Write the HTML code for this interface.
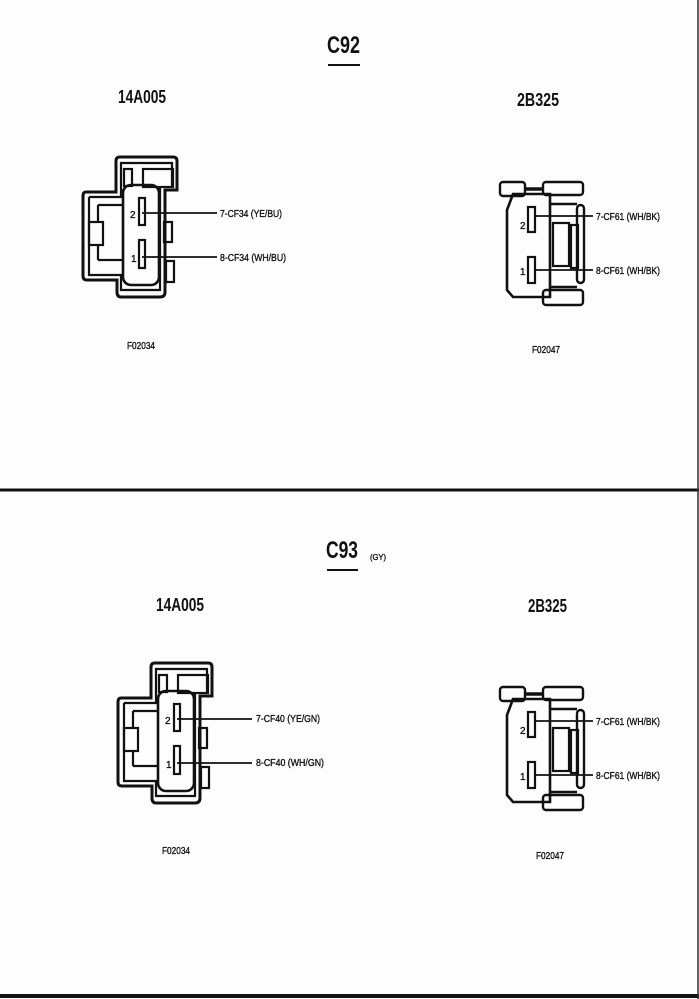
<!DOCTYPE html>
<html><head><meta charset="utf-8"><style>
html,body{margin:0;padding:0;background:#fff}
svg{display:block}
text{font-family:"Liberation Sans",Arial,sans-serif;fill:#111}
.lbl{stroke:#111;stroke-width:0.35}
</style></head><body>
<svg width="699" height="999" viewBox="0 0 699 999" xmlns="http://www.w3.org/2000/svg">
<rect x="0" y="0" width="699" height="999" fill="#fdfdfd"/>
<defs>
<g id="connA" fill="none" stroke="#111">
  <path d="M86,192 H116 V161 Q116,157 120,157 H173 Q177,157 177,161 V190 H165 V292 Q165,297 160,297 H121 Q117,297 117,292 V280 H87 Q83,280 83,276 V196 Q83,192 86,192 Z" stroke-width="3"/>
  <path d="M89,197 H121 V163 H172 V188" stroke-width="2.2"/>
  <path d="M89,197 V275 H121 V290 H160 V186" stroke-width="2.2"/>
  <rect x="123" y="185" width="36" height="100" rx="8" stroke-width="2.6"/>
  <rect x="124" y="169" width="8" height="17" stroke-width="2.2"/>
  <rect x="143" y="169" width="30" height="18" stroke-width="2.2"/>
  <rect x="89" y="222" width="14" height="23" stroke-width="2.2"/>
  <path d="M98,205 H123 M98,205 V222 M98,260 H123 M98,245 V260" stroke-width="2.2"/>
  <rect x="164" y="222" width="8" height="20" stroke-width="2.2"/>
  <rect x="166" y="261" width="8" height="21" stroke-width="2.2"/>
  <rect x="139" y="198" width="6" height="27" stroke-width="2.2"/>
  <rect x="139" y="240" width="6" height="28" stroke-width="2.2"/>
  <line x1="142" y1="213" x2="217" y2="213" stroke-width="1.8"/>
  <line x1="142" y1="257" x2="217" y2="257" stroke-width="1.8"/>
  <text x="130" y="218" font-size="10" class="lbl">2</text>
  <text x="131" y="262" font-size="10" class="lbl">1</text>
</g>
<g id="connB" fill="none" stroke="#111">
  <rect x="500" y="182" width="25" height="14" rx="3" stroke-width="2.4"/>
  <rect x="543" y="182" width="40" height="13" rx="3" stroke-width="2.4"/>
  <path d="M525,189 H543" stroke-width="3.5"/>
  <path d="M513,194 H550 V297 H513 L507,290 V210 Z" stroke-width="2.6"/>
  <path d="M550,204 H577 M550,287 H577" stroke-width="2.4"/>
  <rect x="577" y="205" width="7" height="78" rx="3.5" stroke-width="2.4"/>
  <rect x="553" y="223" width="16" height="43" stroke-width="2.2"/>
  <rect x="571" y="225" width="7" height="43" stroke-width="2.2"/>
  <rect x="528" y="207" width="7" height="25" stroke-width="2.2"/>
  <rect x="528" y="257" width="7" height="26" stroke-width="2.2"/>
  <rect x="543" y="290" width="40" height="15" rx="3" stroke-width="2.4"/>
  <line x1="535" y1="216" x2="593" y2="216" stroke-width="1.8"/>
  <line x1="535" y1="270" x2="593" y2="270" stroke-width="1.8"/>
  <text x="520" y="229" font-size="10" class="lbl">2</text>
  <text x="520" y="275" font-size="10" class="lbl">1</text>
</g>
</defs>

<text x="327" y="53" font-size="24" font-weight="bold" textLength="33" lengthAdjust="spacingAndGlyphs">C92</text>
<line x1="328" y1="65" x2="360" y2="65" stroke="#111" stroke-width="2"/>
<text x="118" y="103" font-size="18" font-weight="bold" textLength="48" lengthAdjust="spacingAndGlyphs">14A005</text>
<text x="517" y="106" font-size="18" font-weight="bold" textLength="42" lengthAdjust="spacingAndGlyphs">2B325</text>
<use href="#connA"/>
<text x="220" y="217" font-size="10" class="lbl" textLength="62" lengthAdjust="spacingAndGlyphs">7-CF34 (YE/BU)</text>
<text x="220" y="261" font-size="10" class="lbl" textLength="66" lengthAdjust="spacingAndGlyphs">8-CF34 (WH/BU)</text>
<use href="#connB"/>
<text x="596" y="220" font-size="10" class="lbl" textLength="64" lengthAdjust="spacingAndGlyphs">7-CF61 (WH/BK)</text>
<text x="596" y="274" font-size="10" class="lbl" textLength="64" lengthAdjust="spacingAndGlyphs">8-CF61 (WH/BK)</text>
<text x="127" y="349" font-size="10" class="lbl" textLength="28" lengthAdjust="spacingAndGlyphs">F02034</text>
<text x="532" y="353" font-size="10" class="lbl" textLength="28" lengthAdjust="spacingAndGlyphs">F02047</text>

<line x1="0" y1="490" x2="699" y2="490" stroke="#111" stroke-width="3"/>

<text x="326" y="558" font-size="24" font-weight="bold" textLength="32" lengthAdjust="spacingAndGlyphs">C93</text>
<line x1="327" y1="570" x2="358" y2="570" stroke="#111" stroke-width="2"/>
<text x="370" y="560" font-size="8" class="lbl" textLength="16" lengthAdjust="spacingAndGlyphs">(GY)</text>
<text x="156" y="611" font-size="18" font-weight="bold" textLength="48" lengthAdjust="spacingAndGlyphs">14A005</text>
<text x="528" y="612" font-size="18" font-weight="bold" textLength="39" lengthAdjust="spacingAndGlyphs">2B325</text>
<use href="#connA" transform="translate(35,506)"/>
<text x="256" y="722" font-size="10" class="lbl" textLength="64" lengthAdjust="spacingAndGlyphs">7-CF40 (YE/GN)</text>
<text x="256" y="766" font-size="10" class="lbl" textLength="68" lengthAdjust="spacingAndGlyphs">8-CF40 (WH/GN)</text>
<use href="#connB" transform="translate(0,505)"/>
<text x="596" y="725" font-size="10" class="lbl" textLength="64" lengthAdjust="spacingAndGlyphs">7-CF61 (WH/BK)</text>
<text x="596" y="779" font-size="10" class="lbl" textLength="64" lengthAdjust="spacingAndGlyphs">8-CF61 (WH/BK)</text>
<text x="162" y="854" font-size="10" class="lbl" textLength="28" lengthAdjust="spacingAndGlyphs">F02034</text>
<text x="536" y="859" font-size="10" class="lbl" textLength="28" lengthAdjust="spacingAndGlyphs">F02047</text>

<line x1="0" y1="996" x2="699" y2="996" stroke="#111" stroke-width="4"/>
<line x1="698" y1="0" x2="698" y2="999" stroke="#333" stroke-width="1.5"/>
</svg>
</body></html>
